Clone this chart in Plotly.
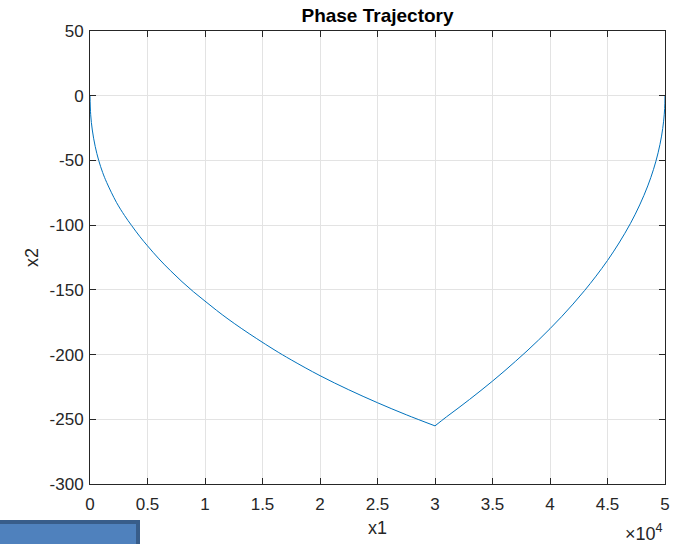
import plotly.graph_objects as go

# Left branch (x1, x2)
x1_left = [0, 60, 200, 450, 760, 1100, 1450, 2300, 3000, 3610, 4350, 5000, 6000, 7000, 8000, 9000, 10000,
           11000, 12000, 13200, 14500, 16000, 17500, 20000, 22500, 25000, 27500, 30000]
x2_left = [0, -14.7, -26.5, -39.1, -50.1, -59.3, -67.0, -82.4, -92.5, -100.2, -109.0, -116.0, -126.1, -135.2,
           -143.7, -151.5, -158.7, -165.8, -172.5, -180.0, -187.7, -196.2, -204.1, -216.3, -227.2, -237.2,
           -246.5, -255.1]
# Right branch
x1_right = [30000, 31000, 32000, 33000, 34000, 35000, 36000, 37000, 38000, 39000, 40000, 41000, 42000,
            43000, 44000, 45000, 46000, 47000, 47800, 48500, 49000, 49400, 49700, 49880, 49970, 50000]
x2_right = [-255.1, -248.1, -241.5, -234.7, -227.7, -220.5, -213.0, -205.2, -197.2, -188.8, -180.0, -170.8,
            -161.0, -150.6, -139.4, -127.3, -113.8, -98.6, -84.4, -69.7, -56.9, -44.1, -31.2, -19.7, -9.9, 0]

x_tickvals = [0, 5000, 10000, 15000, 20000, 25000, 30000, 35000, 40000, 45000, 50000]
x_ticktext = ["0", "0.5", "1", "1.5", "2", "2.5", "3", "3.5", "4", "4.5", "5"]
y_tickvals = [50, 0, -50, -100, -150, -200, -250, -300]
y_ticktext = ["50", "0", "-50", "-100", "-150", "-200", "-250", "-300"]

W, H = 683, 544
L, R, T, B = 90, 18, 31, 60
pw, ph = W - L - R, H - T - B

FONT = "Liberation Sans, Arial, sans-serif"
TXT = "#262626"
LINE = "#0072BD"

fig = go.Figure()
fig.add_trace(go.Scatter(x=x1_left, y=x2_left, mode="lines",
                         line=dict(color=LINE, width=1, shape="spline", smoothing=1.0),
                         showlegend=False, hoverinfo="skip"))
fig.add_trace(go.Scatter(x=x1_right, y=x2_right, mode="lines",
                         line=dict(color=LINE, width=1, shape="spline", smoothing=1.0),
                         showlegend=False, hoverinfo="skip"))

axis_common = dict(
    showgrid=True, gridcolor="#e3e3e3", gridwidth=1,
    showline=True, linecolor=TXT, linewidth=1, mirror="allticks",
    ticks="inside", ticklen=6, tickcolor=TXT, tickwidth=1,
    zeroline=False, tickfont=dict(family=FONT, size=17, color=TXT),
)

fig.update_layout(
    width=W, height=H,
    margin=dict(l=L, r=R, t=T, b=B, pad=0),
    paper_bgcolor="white", plot_bgcolor="white",
    title=dict(text="<b>Phase Trajectory</b>", x=(L + pw / 2) / W, xanchor="center",
               y=1 - 15 / H, yanchor="middle", yref="container",
               font=dict(family=FONT, size=19, color="black")),
    xaxis=dict(range=[0, 50000], tickvals=x_tickvals, ticktext=x_ticktext,
               ticklabelstandoff=5, **axis_common),
    yaxis=dict(range=[-300, 50], tickvals=y_tickvals, ticktext=y_ticktext,
               ticklabelstandoff=2, **axis_common),
    annotations=[
        dict(text="x1", xref="paper", yref="paper", x=0.5, y=-(528 - (T + ph)) / ph,
             xanchor="center", yanchor="middle", showarrow=False,
             font=dict(family=FONT, size=18, color=TXT)),
        dict(text="x2", xref="paper", yref="paper", x=-(L - 32) / pw, y=(T + ph - 258) / ph,
             xanchor="center", yanchor="middle", showarrow=False, textangle=-90,
             font=dict(family=FONT, size=18, color=TXT)),
        dict(text="\u00d710<sup>4</sup>", xref="paper", yref="paper", x=1.0, y=-(532 - (T + ph)) / ph,
             xanchor="right", yanchor="middle", showarrow=False,
             font=dict(family=FONT, size=18, color=TXT)),
    ],
    shapes=[
        dict(type="rect", xref="paper", yref="paper",
             x0=(-10 - L) / pw, x1=(138 - L) / pw,
             y0=-(556 - (T + ph)) / ph, y1=-(522 - (T + ph)) / ph,
             fillcolor="#4f81bd", line=dict(color="#385d8a", width=4), layer="above"),
    ],
)

fig.write_html("out.html")
